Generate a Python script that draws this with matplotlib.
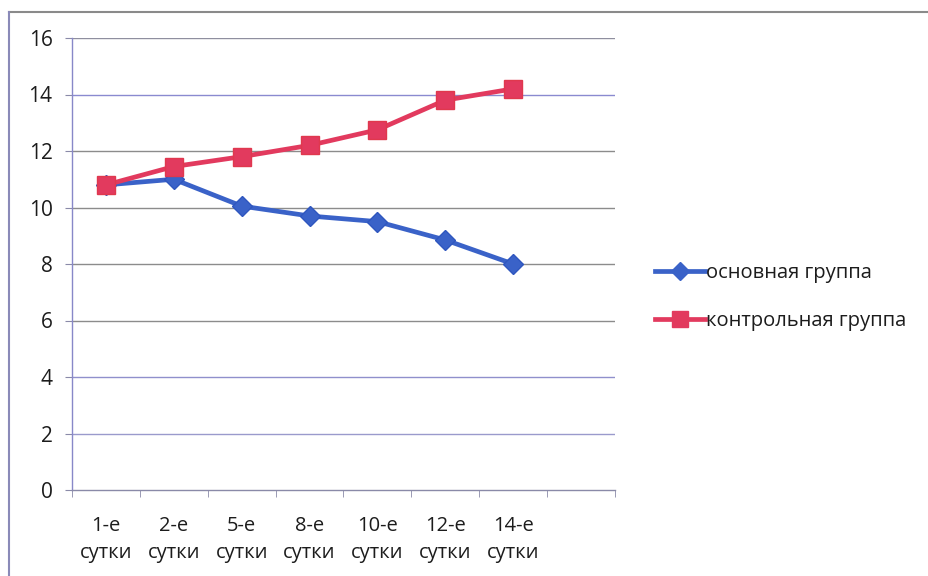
import matplotlib
matplotlib.use("Agg")
import matplotlib.pyplot as plt
from matplotlib.lines import Line2D
import numpy as np

plt.rcParams['font.family'] = ['Open Sans', 'DejaVu Sans']

categories = ["1-е\nсутки", "2-е\nсутки", "5-е\nсутки", "8-е\nсутки",
              "10-е\nсутки", "12-е\nсутки", "14-е\nсутки", ""]
main_group = [10.8, 11.0, 10.05, 9.7, 9.5, 8.85, 8.0]
control_group = [10.8, 11.45, 11.8, 12.2, 12.75, 13.8, 14.2]
yticks = [0, 2, 4, 6, 8, 10, 12, 14, 16]

W, H = 929, 576
fig = plt.figure(figsize=(W / 100, H / 100), dpi=100)
fig.patch.set_facecolor("white")
ax = fig.add_axes([72 / W, 1 - 490 / H, (615 - 72) / W, (490 - 38) / H])

x = np.arange(len(main_group))
ax.set_xlim(-0.5, len(categories) - 0.5)
ax.set_ylim(0, 16)

grid_colors = {16: "#8f8f9f", 14: "#8a8ad0", 12: "#8c8c8c", 10: "#8c8c8c",
               8: "#8c8c8c", 6: "#8c8c8c", 4: "#9090cc", 2: "#9a9acc"}
for v in yticks[1:]:
    ax.axhline(v, color=grid_colors.get(v, "#8c8c8c"), lw=1.0, zorder=1)

ax.plot(x, main_group, color="#3a62c8", lw=3.4, marker="D", ms=10,
        markeredgecolor="#2f56bf", markerfacecolor="#3a62c8", zorder=3,
        label="основная группа")
ax.plot(x, control_group, color="#e23a5e", lw=3.4, marker="s", ms=12.5,
        markeredgecolor="#e0384e", markerfacecolor="#e23a5e", zorder=4,
        label="контрольная группа")

for s in ["top", "right"]:
    ax.spines[s].set_visible(False)
ax.spines["left"].set_color("#8888c8")
ax.spines["bottom"].set_color("#8a8aa8")
ax.spines["left"].set_linewidth(1.0)
ax.spines["bottom"].set_linewidth(1.0)

txt = "#1c1c1c"
ax.set_yticks(yticks)
ax.set_yticklabels([str(v) for v in yticks], fontsize=15, color=txt)
ax.tick_params(axis="y", length=5, color="#8a8aa8", pad=9)

ax.set_xticks(x.tolist() + [7])
ax.set_xticklabels(categories, fontsize=14.5, color=txt, linespacing=1.45)
ax.tick_params(axis="x", which="major", length=0, pad=19)
ax.set_xticks(np.arange(-0.5, len(categories)), minor=True)
ax.tick_params(axis="x", which="minor", length=5, color="#8a8aa8")

ax.set_facecolor("none")

handles = [
    Line2D([], [], color="#3a62c8", lw=3.4, marker="D", ms=9),
    Line2D([], [], color="#e23a5e", lw=3.4, marker="s", ms=12),
]
fig.legend(handles, ["основная группа", "контрольная группа"],
           loc="center left", bbox_to_anchor=(637 / W, 1 - 297 / H),
           frameon=False, fontsize=14.5, handlelength=2.5, handletextpad=0.05,
           labelspacing=1.35, labelcolor=txt)

# chart frame (top and left edges visible in the cropped reference)
fig.add_artist(Line2D([9 / W, 1.0], [1 - 12 / H, 1 - 12 / H],
                      transform=fig.transFigure, color="#8a8a8a", lw=1.5))
fig.add_artist(Line2D([9 / W, 9 / W], [0, 1 - 12 / H],
                      transform=fig.transFigure, color="#8a8ab8", lw=1.5))

fig.savefig("out.png", dpi=100, facecolor="white")
